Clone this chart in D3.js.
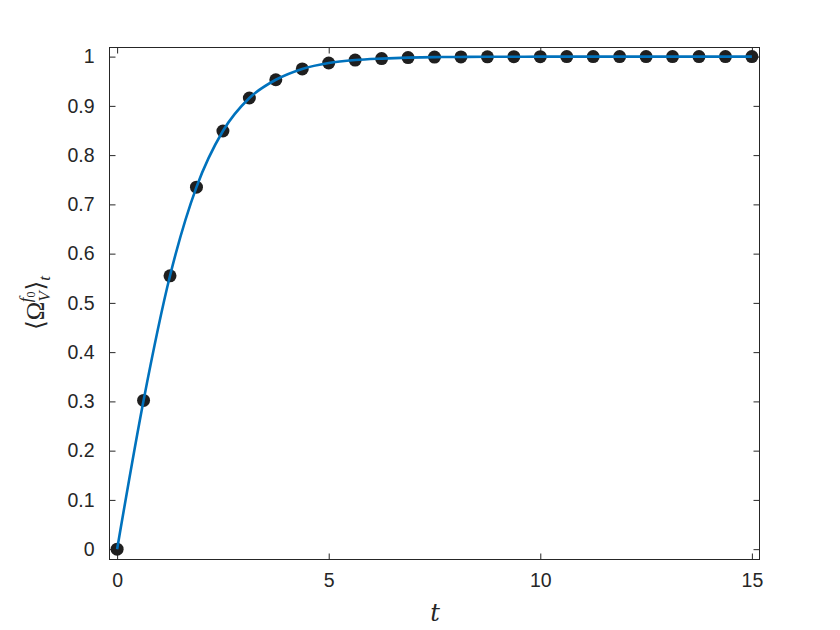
<!DOCTYPE html>
<html><head><meta charset="utf-8">
<script src="https://cdn.jsdelivr.net/npm/d3@7"></script>
<style>body{margin:0;background:#fff}svg{display:block}</style>
</head><body>
<div id="chart"></div>
<script>
const tValues = [0, 0.625, 1.25, 1.875, 2.5, 3.125, 3.75, 4.375, 5, 5.625, 6.25, 6.875, 7.5, 8.125, 8.75, 9.375, 10, 10.625, 11.25, 11.875, 12.5, 13.125, 13.75, 14.375, 15];
const omegaValues = [0, 0.302, 0.555, 0.735, 0.849, 0.916, 0.953, 0.975, 0.987, 0.993, 0.996, 0.998, 0.999, 0.9993, 0.9996, 0.9998, 0.9999, 1, 1, 1, 1, 1, 1, 1, 1];
const xTicks = [0, 5, 10, 15];
const yTicks = [0, 0.1, 0.2, 0.3, 0.4, 0.5, 0.6, 0.7, 0.8, 0.9, 1];

const W = 840, H = 630;
const L = 109.5, R = 759.5, T = 47.5, B = 559.5;
const svg = d3.select("#chart").append("svg").attr("width", W).attr("height", H);
const x = d3.scaleLinear().domain([-0.18, 15.18]).range([L, R]);
const y = d3.scaleLinear().domain([-0.021, 1.0185]).range([B, T]);
const data = tValues.map((t, i) => ({t, v: omegaValues[i]}));
const ink = "#262626";
const tickFont = "'Liberation Sans', Arial, Helvetica, sans-serif";

svg.append("rect").attr("x", L).attr("y", T).attr("width", R - L).attr("height", B - T)
  .attr("fill", "#fff");

// axes
const xb = svg.append("g").attr("transform", `translate(0,${B})`)
  .call(d3.axisBottom(x).tickValues(xTicks).tickSize(-6).tickPadding(14).tickFormat(d3.format("d")));
const xt = svg.append("g").attr("transform", `translate(0,${T})`)
  .call(d3.axisTop(x).tickValues(xTicks).tickSize(-6).tickFormat(""));
const yl = svg.append("g").attr("transform", `translate(${L},0)`)
  .call(d3.axisLeft(y).tickValues(yTicks).tickSize(-6).tickPadding(15).tickFormat(d => d3.format("")(+d.toFixed(1))));
const yr = svg.append("g").attr("transform", `translate(${R},0)`)
  .call(d3.axisRight(y).tickValues(yTicks).tickSize(-6).tickFormat(""));
[xb, xt, yl, yr].forEach(g => {
  g.select(".domain").remove();
  g.selectAll("line").attr("stroke", ink).attr("stroke-width", 1);
  g.selectAll("text").attr("fill", ink).attr("font-family", tickFont).attr("font-size", 19.5);
  g.attr("font-size", 19.5).attr("font-family", tickFont);
});
svg.append("rect").attr("x", L).attr("y", T).attr("width", R - L).attr("height", B - T)
  .attr("fill", "none").attr("stroke", ink).attr("stroke-width", 1);

// points
svg.append("g").selectAll("circle").data(data).join("circle")
  .attr("cx", d => x(d.t)).attr("cy", d => y(d.v)).attr("r", 6.5)
  .attr("fill", "#1f1f1f");

// line
svg.append("path").datum(data)
  .attr("d", d3.line().x(d => x(d.t)).y(d => y(d.v)).curve(d3.curveMonotoneX))
  .attr("fill", "none").attr("stroke", "#0072BD").attr("stroke-width", 2.6);

// x label
svg.append("text").attr("x", 435).attr("y", 621).attr("text-anchor", "middle")
  .attr("font-family", "'DejaVu Serif', 'Liberation Serif', serif").attr("font-style", "italic")
  .attr("font-size", 24).attr("fill", ink).text("t");

// y label
const yLab = svg.append("text").attr("transform", "translate(44,303) rotate(-90)")
  .attr("text-anchor", "middle").attr("fill", ink)
  .attr("font-family", "'Liberation Serif', 'DejaVu Serif', serif").attr("font-size", 25);
yLab.append("tspan").text("⟨Ω");
yLab.append("tspan").attr("dy", 6).attr("font-size", 17).attr("font-style", "italic").text("V");
yLab.append("tspan").attr("dx", -11).attr("dy", -19).attr("font-size", 17).attr("font-style", "italic").text("f");
yLab.append("tspan").attr("dy", 4).attr("font-size", 12).text("0");
yLab.append("tspan").attr("dx", 1).attr("dy", 9).text("⟩");
yLab.append("tspan").attr("dy", 6).attr("font-size", 17).attr("font-style", "italic").text("t");
</script>
</body></html>
